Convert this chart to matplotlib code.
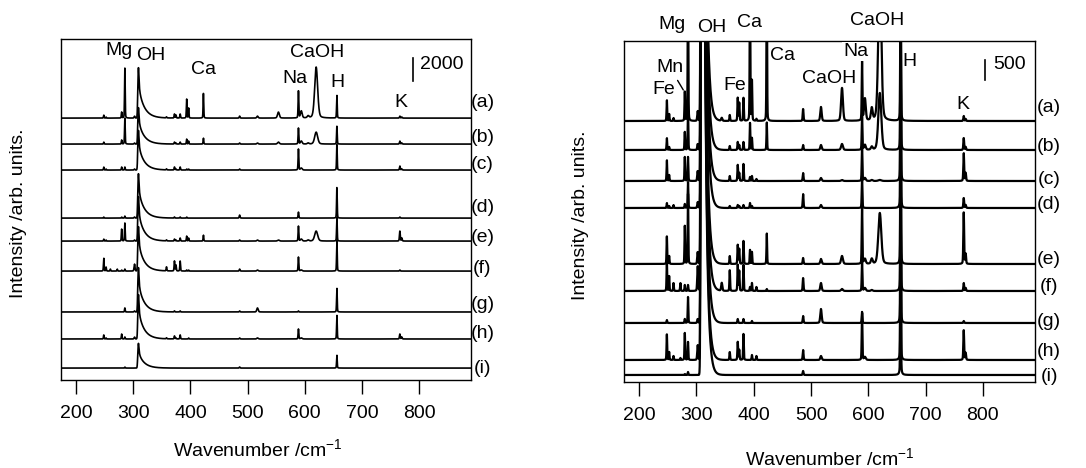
import numpy as np
import matplotlib.pyplot as plt

plt.rcParams['font.family'] = ['Liberation Sans', 'DejaVu Sans']
plt.rcParams['font.size'] = 14
plt.rcParams['mathtext.fontset'] = 'custom'
plt.rcParams['mathtext.rm'] = 'Liberation Sans'
plt.rcParams['mathtext.it'] = 'Liberation Sans:italic'
plt.rcParams['axes.linewidth'] = 1.0

# ------------------------------------------------------------
#  data: emission lines and peak heights
# ------------------------------------------------------------
spectra_names = ['(a)', '(b)', '(c)', '(d)', '(e)', '(f)', '(g)', '(h)', '(i)']

line_pos = [248.3, 252.3, 259.9, 271.9, 279.6, 285.2, 302.1, 344.1, 358.1,
            372.0, 374.6, 382.0, 393.4, 396.8, 404.6, 422.7, 486.1, 517.3,
            554.0, 589.0, 594.0, 606.0, 620.0, 656.3, 766.5, 769.9]
line_sigma = [0.55, 0.55, 0.55, 0.55, 0.55, 0.55, 0.8, 1.0, 0.6,
              0.6, 0.6, 0.6, 0.55, 0.55, 0.6, 0.55, 0.7, 1.2,
              1.6, 0.6, 1.5, 1.5, 2.6, 0.55, 0.7, 0.7]

# left panel (scale bar 2000)
left_heights = [
    [260, 90, 0, 0, 520, 4350, 170, 0, 90, 350, 260, 350, 1650, 870, 0, 2180, 170, 170, 520, 2350, 610, 170, 4440, 2000, 170, 90],
    [170, 0, 0, 0, 350, 2260, 90, 0, 0, 170, 90, 170, 430, 260, 0, 520, 90, 90, 170, 1390, 260, 90, 1040, 1570, 260, 90],
    [260, 90, 0, 0, 260, 260, 90, 0, 90, 260, 90, 260, 90, 90, 0, 0, 90, 0, 0, 1830, 170, 0, 0, 2260, 350, 90],
    [90, 0, 0, 0, 90, 170, 90, 0, 0, 90, 0, 90, 90, 0, 0, 0, 260, 0, 0, 520, 0, 0, 0, 2700, 90, 0],
    [170, 90, 0, 0, 1040, 1570, 90, 0, 90, 170, 90, 260, 430, 260, 0, 520, 90, 90, 90, 1300, 170, 90, 870, 2090, 870, 260],
    [1130, 350, 170, 170, 90, 170, 610, 0, 350, 870, 520, 870, 90, 90, 0, 0, 170, 90, 0, 1220, 90, 0, 0, 2700, 90, 0],
    [0, 0, 0, 0, 0, 350, 90, 0, 0, 90, 0, 90, 0, 0, 0, 0, 90, 350, 0, 90, 0, 0, 0, 2090, 0, 0],
    [350, 90, 0, 0, 430, 170, 170, 0, 90, 260, 90, 350, 0, 90, 0, 0, 90, 90, 0, 870, 90, 0, 0, 2090, 430, 170],
    [0, 0, 0, 0, 0, 90, 0, 0, 0, 0, 0, 0, 0, 0, 0, 0, 90, 0, 0, 0, 0, 0, 0, 1130, 0, 0],
]
left_oh = [4430, 3200, 3480, 3900, 3900, 3900, 3900, 3900, 2170]
left_offsets = [22790, 20530, 18270, 14090, 12090, 9480, 5920, 3570, 1040]

# right panel (scale bar 500)
right_heights = [
    [525, 175, 75, 0, 725, 3750, 250, 75, 150, 575, 450, 575, 3750, 1000, 50, 3750, 300, 350, 825, 1500, 550, 300, 3750, 5000, 125, 50],
    [300, 75, 0, 0, 450, 1000, 150, 0, 100, 200, 125, 200, 675, 300, 0, 700, 125, 125, 150, 875, 125, 75, 1425, 5000, 300, 75],
    [525, 150, 0, 0, 600, 600, 250, 0, 125, 400, 200, 425, 100, 125, 50, 0, 200, 75, 25, 875, 75, 25, 25, 5000, 700, 200],
    [125, 50, 75, 0, 100, 650, 150, 0, 50, 75, 50, 75, 125, 50, 0, 0, 350, 75, 0, 750, 0, 0, 0, 5000, 250, 75],
    [700, 200, 0, 0, 950, 1750, 300, 0, 200, 475, 375, 575, 350, 300, 0, 775, 150, 125, 200, 1500, 125, 125, 1275, 5000, 1300, 250],
    [750, 375, 200, 200, 150, 150, 625, 200, 525, 650, 500, 650, 100, 200, 100, 50, 325, 200, 50, 750, 75, 25, 0, 5000, 200, 75],
    [75, 0, 0, 0, 100, 650, 100, 0, 0, 100, 0, 100, 0, 50, 0, 0, 175, 350, 0, 250, 0, 0, 0, 5000, 50, 0],
    [650, 200, 100, 50, 675, 450, 375, 0, 200, 450, 250, 650, 0, 125, 100, 0, 250, 100, 0, 1200, 75, 0, 0, 5000, 750, 175],
    [0, 0, 0, 0, 25, 75, 0, 0, 0, 0, 0, 0, 0, 0, 0, 0, 100, 0, 0, 0, 0, 0, 0, 5000, 0, 0],
]
right_oh = [37500, 37500, 37500, 37500, 37500, 37500, 37500, 37500, 37500]
right_offsets = [6525, 5800, 5025, 4350, 2950, 2275, 1475, 550, 175]

xticks = [200, 300, 400, 500, 600, 700, 800]

wl = np.arange(174.0, 891.0, 0.2)


def line_shape(x, c, s):
    g = np.exp(-0.5 * ((x - c) / s) ** 2)
    l = 1.0 / (1.0 + ((x - c) / (1.2 * s)) ** 2)
    return 0.75 * g + 0.25 * l


def oh_band(x, h, spike_frac, tail_len):
    # band head near 307 nm, sharp spike and a red-degraded tail
    edge = 1.0 / (1.0 + np.exp(-(x - 307.4) / 0.35))
    d = np.clip(x - 309.0, 0, None)
    spike = spike_frac / (1.0 + ((x - 309.0) / 1.0) ** 2)
    tail = (1 - spike_frac) * np.exp(-d / tail_len)
    return h * edge * (spike + tail)


def spectrum(heights, oh_h, spike_frac, tail_len):
    y = oh_band(wl, oh_h, spike_frac, tail_len)
    for c, s, h in zip(line_pos, line_sigma, heights):
        if h:
            y = y + h * line_shape(wl, c, s)
    return y


def draw_panel(ax, heights, oh, offsets, spike_frac, tail_len, lw, ytop):
    for h, o, base in zip(heights, oh, offsets):
        ax.plot(wl, base + spectrum(h, o, spike_frac, tail_len),
                color='black', lw=lw, solid_joinstyle='round')
    ax.set_xlim(173.5, 891)
    ax.set_ylim(0, ytop)
    ax.set_yticks([])
    ax.set_xticks(xticks)
    ax.tick_params(axis='x', direction='out', length=10, width=1.0,
                   pad=8, labelsize=14)
    ax.set_xlabel('Wavenumber /cm$^{-1}$', fontsize=14)
    ax.set_ylabel('Intensity /arb. units.', fontsize=14)


fig = plt.figure(figsize=(10.86, 4.68), dpi=100)
ax1 = fig.add_axes([0.0562, 0.188, 0.3775, 0.7286])
ax2 = fig.add_axes([0.5746, 0.1838, 0.3785, 0.7286])

# ---------------- left panel ----------------
draw_panel(ax1, left_heights, left_oh, left_offsets, 0.4, 10.0, 1.2, 29670)
ax1.xaxis.set_label_coords(0.48, -0.172)
ax1.yaxis.set_label_coords(-0.083, 0.49)

left_label_y = [24190, 21140, 18790, 15050, 12440, 9660, 6610, 4090, 1040]
for name, y in zip(spectra_names, left_label_y):
    ax1.text(1.028, y, name, transform=ax1.get_yaxis_transform(),
             ha='center', va='center', fontsize=14)

white = dict(facecolor='white', edgecolor='none', pad=1.0)
ax1.text(274.6, 28275, 'Mg', ha='center', va='baseline', bbox=white, zorder=5)
ax1.text(330.5, 27840, 'OH', ha='center', va='baseline')
ax1.text(422.8, 26622, 'Ca', ha='center', va='baseline')
ax1.text(582.7, 25813, 'Na', ha='center', va='baseline')
ax1.text(622.0, 28075, 'CaOH', ha='center', va='baseline',
         bbox=dict(facecolor='white', edgecolor='none', pad=1.0, alpha=0.6), zorder=5)
ax1.text(658.0, 25517, 'H', ha='center', va='baseline')
ax1.text(768.5, 23777, 'K', ha='center', va='baseline')

# scale bar
ax1.plot([789, 789], [26010, 26010 + 2000], color='black', lw=1.2)
ax1.text(801, 27450, '2000', ha='left', va='center')

# ---------------- right panel ----------------
draw_panel(ax2, right_heights, right_oh, right_offsets, 0.0, 4.0, 1.6, 8525)
ax2.xaxis.set_label_coords(0.5, -0.19)
ax2.yaxis.set_label_coords(-0.085, 0.49)

right_label_y = [6850, 5875, 5050, 4425, 3050, 2375, 1500, 750, 125]
for name, y in zip(spectra_names, right_label_y):
    ax2.text(1.034, y, name, transform=ax2.get_yaxis_transform(),
             ha='center', va='center', fontsize=14)

ax2.text(258.0, 8818, 'Mg', ha='center', va='baseline')
ax2.text(326.3, 8758, 'OH', ha='center', va='baseline')
ax2.text(391.8, 8868, 'Ca', ha='center', va='baseline')
ax2.text(615.7, 8925, 'CaOH', ha='center', va='baseline')
ax2.text(253.0, 7758, 'Mn', ha='center', va='baseline')
ax2.text(243.0, 7193, 'Fe', ha='center', va='baseline')
ax2.text(367.3, 7300, 'Fe', ha='center', va='baseline')
ax2.text(450.2, 8050, 'Ca', ha='center', va='baseline', bbox=white, zorder=5)
ax2.text(532.3, 7483, 'CaOH', ha='center', va='baseline')
ax2.text(578.8, 8150, 'Na', ha='center', va='baseline', bbox=white, zorder=5)
ax2.text(671.3, 7900, 'H', ha='center', va='baseline')
ax2.text(764.4, 6818, 'K', ha='center', va='baseline')
ax2.annotate('', xy=(277.0, 7300), xytext=(267.0, 7540),
             arrowprops=dict(arrowstyle='-', color='black', lw=1.0,
                             shrinkA=0, shrinkB=0))

ax2.plot([803.8, 803.8], [7550, 7550 + 500], color='black', lw=1.2)
ax2.text(818.5, 7925, '500', ha='left', va='center')

fig.savefig('out.png', dpi=100)
